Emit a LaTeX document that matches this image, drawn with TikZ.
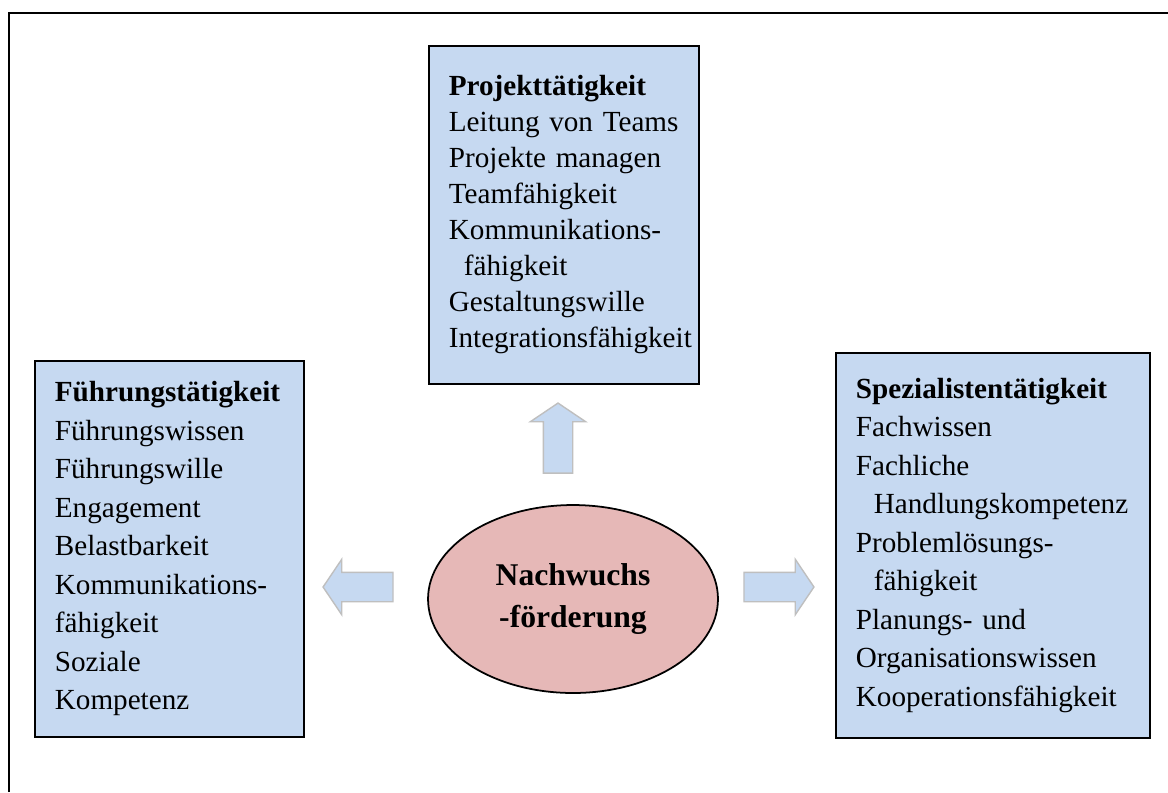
\documentclass[tikz,border=0pt]{standalone}
\usepackage{fontspec}
\setmainfont{Liberation Serif}
\usepackage{xcolor}
\usetikzlibrary{shapes, arrows, positioning, calc}
\definecolor{boxblue}{HTML}{C6D9F1}
\definecolor{ovalred}{HTML}{E6B8B7}

\begin{document}
\begin{tikzpicture}[x=0.02cm, y=-0.02cm,
  box/.style={rectangle, draw, line width=1pt, fill=boxblue, anchor=north west, align=left, inner xsep=0.4cm, inner ysep=0pt, font=\fontsize{16.6}{21.9}\selectfont},
  blockarrow/.style={single arrow, draw=black!25, line width=0.8pt, fill=boxblue, inner sep=0.28cm, minimum height=1.4cm, single arrow head extend=0.26cm, single arrow tip angle=112}]

\useasboundingbox (0,0) rectangle (1168,792);
\draw[line width=1.2pt] (9,792) -- (9,13) -- (1168,13);

\node[box, text width=4.6cm, minimum height=6.76cm, font=\fontsize{16.6}{20.5}\selectfont] (projekt) at (428,45) {\textbf{Projekttätigkeit}\\Leitung von Teams\\Projekte managen\\Teamfähigkeit\\Kommunikations-\\\hspace*{0.3cm}fähigkeit\\Gestaltungswille\\Integrationsfähigkeit};
\node[box, text width=4.58cm, minimum height=7.52cm] (fuehrung) at (34,360) {\textbf{Führungstätigkeit}\\Führungswissen\\Führungswille\\Engagement\\Belastbarkeit\\Kommunikations-\\fähigkeit\\Soziale\\Kompetenz};
\node[box, text width=5.48cm, minimum height=7.7cm] (spezialist) at (835,352) {\textbf{Spezialistentätigkeit}\\Fachwissen\\Fachliche\\\hspace*{0.36cm}Handlungskompetenz\\Problemlösungs-\\\hspace*{0.36cm}fähigkeit\\Planungs- und\\Organisationswissen\\Kooperationsfähigkeit};

\node[ellipse, draw, line width=1pt, fill=ovalred, minimum width=5.8cm, minimum height=3.76cm, align=center, font=\bfseries\fontsize{18}{24.4}\selectfont] (nachwuchs) at (573,599) {Nachwuchs\\-förderung};

\node[blockarrow, shape border rotate=90] (arrowup) at (558,443) {};
\node[blockarrow, shape border rotate=180] (arrowleft) at (363,587) {};
\node[blockarrow] (arrowright) at (774,587) {};

\end{tikzpicture}
\end{document}
